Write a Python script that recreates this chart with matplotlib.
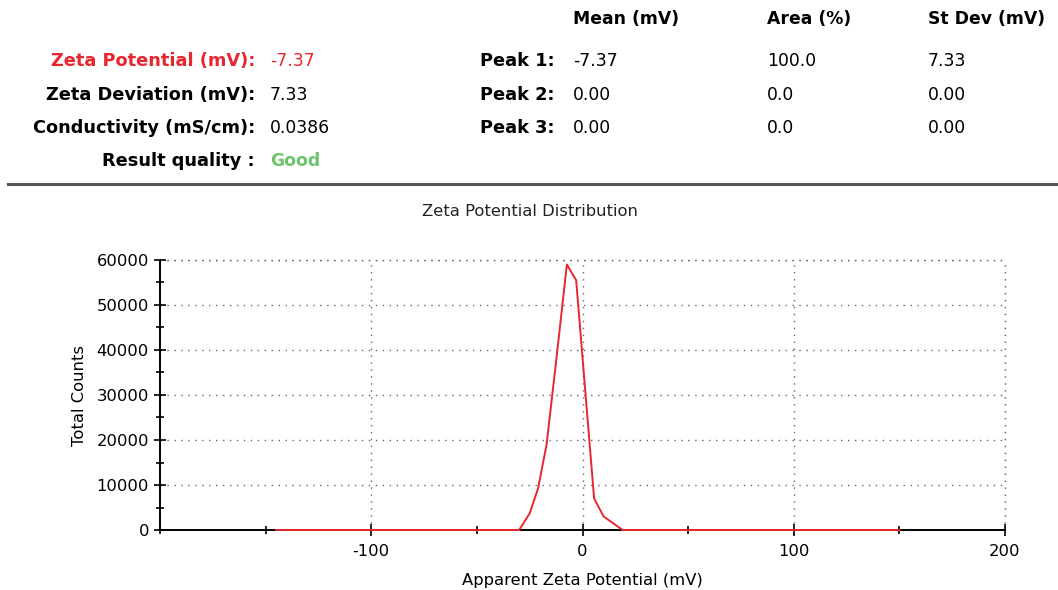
import matplotlib
matplotlib.use("Agg")
import matplotlib.pyplot as plt
from matplotlib.lines import Line2D
from matplotlib.ticker import MultipleLocator

plt.rcParams['font.family'] = ['DejaVu Sans']
plt.rcParams['axes.unicode_minus'] = False

# ---- data ----
zeta_mv = [-145, -30, -25, -21, -17, -12, -7.4, -3.0, 5.5, 10, 19, 150]
counts = [0, 0, 3700, 9300, 19000, 39500, 59000, 55500, 7000, 3000, 0, 0]

summary_labels = ["Zeta Potential (mV):", "Zeta Deviation (mV):", "Conductivity (mS/cm):", "Result quality :"]
summary_values = ["-7.37", "7.33", "0.0386", "Good"]
peak_labels = ["Peak 1:", "Peak 2:", "Peak 3:"]
col_headers = ["Mean (mV)", "Area (%)", "St Dev (mV)"]
peak_mean = ["-7.37", "0.00", "0.00"]
peak_area = ["100.0", "0.0", "0.0"]
peak_sd = ["7.33", "0.00", "0.00"]

W, H = 1058, 590
fig = plt.figure(figsize=(W / 100, H / 100), dpi=100)

def fx(px):
    return px / W

def fy(py):
    return 1 - py / H

red = '#e8262f'
green = '#6cc36c'
fs = 12.8

# header
row_y = [61, 95, 128, 161]
for i, (lab, val) in enumerate(zip(summary_labels, summary_values)):
    col = red if i == 0 else 'black'
    vcol = red if i == 0 else (green if i == 3 else 'black')
    fig.text(fx(255), fy(row_y[i]), lab, ha='right', va='center', fontsize=fs,
             fontweight='bold', color=col)
    fig.text(fx(270), fy(row_y[i]), val, ha='left', va='center', fontsize=fs - 0.4,
             color=vcol, fontweight='bold' if i == 3 else 'normal')

col_x = [573, 767, 928]
for cx, hdr in zip(col_x, col_headers):
    fig.text(fx(cx), fy(19), hdr, ha='left', va='center', fontsize=fs - 0.4, fontweight='bold')
for i, pl in enumerate(peak_labels):
    fig.text(fx(555), fy(row_y[i]), pl, ha='right', va='center', fontsize=fs, fontweight='bold')
    for cx, vals in zip(col_x, [peak_mean, peak_area, peak_sd]):
        fig.text(fx(cx), fy(row_y[i]), vals[i], ha='left', va='center', fontsize=fs - 0.4)

fig.add_artist(Line2D([fx(8), 1.0], [fy(184), fy(184)], color='#555555', lw=2.2))

fig.text(fx(530), fy(212), "Zeta Potential Distribution", ha='center', va='center',
         fontsize=11.8, color='#222222')

# chart
ax = fig.add_axes([fx(160), fy(530), fx(1005) - fx(160), fy(260) - fy(530)])
ax.plot(zeta_mv, counts, color=red, lw=1.4, zorder=5, clip_on=False)
ax.set_xlim(-200, 200)
ax.set_ylim(0, 60000)
ax.set_xticks([-100, 0, 100, 200])
ax.xaxis.set_minor_locator(MultipleLocator(50))
ax.yaxis.set_major_locator(MultipleLocator(10000))
ax.yaxis.set_minor_locator(MultipleLocator(5000))
ax.tick_params(which='both', direction='inout', length=8, width=1.2, color='black',
               labelsize=11.8)
ax.tick_params(which='minor', length=6)
ax.tick_params(axis='x', pad=6)
ax.tick_params(axis='y', pad=4)
ax.spines['top'].set_visible(False)
ax.spines['right'].set_visible(False)
ax.spines['left'].set_linewidth(1.4)
ax.spines['bottom'].set_linewidth(1.4)
ax.grid(True, which='major', linestyle=(0, (1, 4)), color='#666666', lw=1.0)
ax.axhline(60000, linestyle=(0, (1, 4)), color='#666666', lw=1.0, clip_on=False)
ax.axvline(200, linestyle=(0, (1, 4)), color='#666666', lw=1.0, clip_on=False)
ax.set_xlabel("Apparent Zeta Potential (mV)", fontsize=11.8, labelpad=10)
ax.set_ylabel("Total Counts", fontsize=11.8, labelpad=7)

fig.savefig("out.png", dpi=100)
